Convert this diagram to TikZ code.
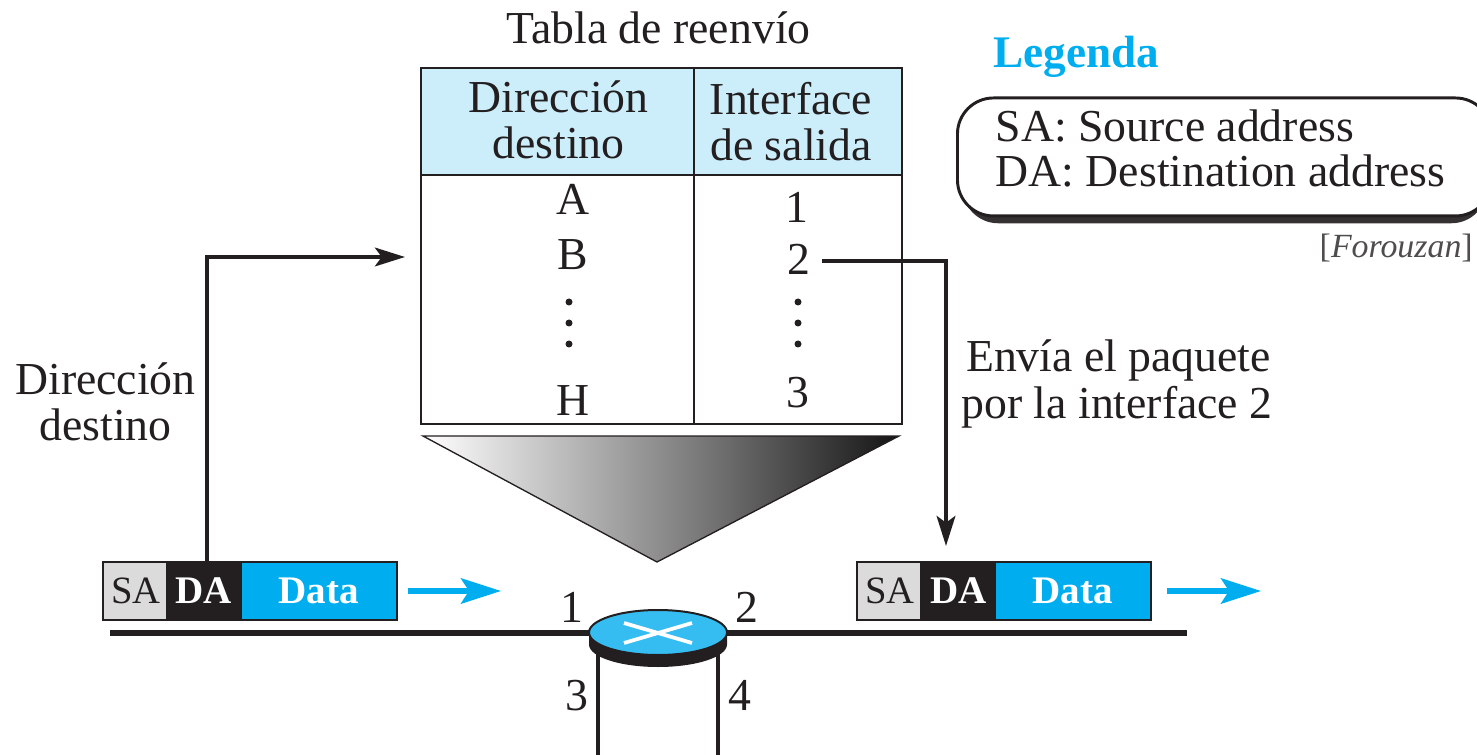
\documentclass[tikz,border=0pt]{standalone}
\usepackage{fontspec}
\setmainfont{Liberation Serif}
\usetikzlibrary{arrows.meta,shapes.geometric}
\definecolor{ink}{HTML}{231F20}
\definecolor{cyanb}{HTML}{00AEEF}
\definecolor{hdr}{HTML}{CCEEFA}
\definecolor{rtr}{HTML}{35BDF2}
\tikzset{
  txt/.style={anchor=base,inner sep=0pt,text=ink,font=\fontsize{34.3}{36}\selectfont},
  pkt/.style={anchor=base,inner sep=0pt,font=\fontsize{29}{30}\selectfont},
  cell/.style={draw=ink,line width=2.1pt,anchor=north west,inner sep=0pt,outer sep=0pt},
  field/.style={draw=ink,line width=2.1pt,anchor=north west,inner sep=0pt,outer sep=0pt,minimum height=58*0.75pt},
  dotm/.style={circle,fill=ink,inner sep=0pt,minimum size=7*0.75pt},
  wire/.style={ink,line width=3.8pt},
  link/.style={ink,line width=3pt,-{Stealth[length=22.5pt,width=14pt,inset=5pt]}},
  flow/.style={cyanb,line width=4pt,-{Stealth[length=30pt,width=19pt,inset=6pt]}},
}
\begin{document}
\begin{tikzpicture}[x=0.75pt,y=-0.75pt]
\clip (0,0) rectangle (1477,755);
% table
\node[txt] (title) at (658.5,44) {Tabla de reenvío};
\node[cell,fill=hdr,minimum width=273*0.75pt,minimum height=107*0.75pt] (hl) at (421,68) {};
\node[cell,fill=hdr,minimum width=208*0.75pt,minimum height=107*0.75pt] (hr) at (694,68) {};
\node[cell,minimum width=273*0.75pt,minimum height=249*0.75pt] (bl) at (421,175) {};
\node[cell,minimum width=208*0.75pt,minimum height=249*0.75pt] (br) at (694,175) {};
\node[txt] (h1a) at (558.5,113) {Dirección};
\node[txt] (h1b) at (558.5,159) {destino};
\node[txt] (h2a) at (791,115) {Interface};
\node[txt] (h2b) at (791,161) {de salida};
\node[txt] (ra) at (573,215) {A};
\node[txt] (rb) at (572.5,270) {B};
\node[txt] (rh) at (573,415) {H};
\node[txt] (r1) at (797,223) {1};
\node[txt] (r2) at (798.5,275) {2};
\node[txt] (r3) at (798,407) {3};
\node[dotm] (d1) at (569,302) {};
\node[dotm] (d2) at (569,323) {};
\node[dotm] (d3) at (569,344) {};
\node[dotm] (d4) at (798,302) {};
\node[dotm] (d5) at (798,323) {};
\node[dotm] (d6) at (798,344) {};
% funnel
\path[left color=white,right color=black!92,middle color=black!45] (423,436) -- (899,436) -- (657,562) -- cycle;
\draw[ink,line width=1pt] (423,436) -- (899,436) -- (657,562) -- cycle;
% legend
\node[txt,anchor=base west,text=cyanb,font=\fontsize{33.9}{36}\selectfont\bfseries] (lt) at (993,68) {Legenda};
\node[rectangle,rounded corners=27pt,fill=ink!92,anchor=north west,minimum width=525*0.75pt,minimum height=118*0.75pt] (ls) at (962,105) {};
\node[rectangle,rounded corners=27pt,draw=ink,fill=white,line width=2.2pt,anchor=north west,minimum width=534*0.75pt,minimum height=118*0.75pt] (lb) at (956,96.5) {};
\node[txt,anchor=base west] (l1) at (995.5,142) {SA: Source address};
\node[txt,anchor=base west] (l2) at (995.5,187) {DA: Destination address};
\node[txt,anchor=base east,text=ink!80,font=\fontsize{25.4}{26}\selectfont] (cr) at (1473,258) {[\textit{Forouzan}]};
% network line
\coordinate (wl) at (110,633);
\coordinate (wr) at (1187,633);
\coordinate (v1) at (598,755);
\coordinate (v2) at (718,755);
\draw[wire] (wl) -- (wr);
\draw[ink,line width=3pt] (598,650) -- (v1);
\draw[ink,line width=3pt] (718,650) -- (v2);
% router
\fill[ink] (589,633) -- (589,644.5) arc[start angle=180,end angle=0,x radius=69,y radius=22.5] -- (727,633) -- cycle;
\node[ellipse,draw=ink,fill=rtr,line width=1.5pt,inner sep=0pt,minimum width=138*0.75pt,minimum height=45*0.75pt] (router) at (658,632.5) {};
\draw[white,line width=2.8pt] (624,623) -- (692,643);
\draw[white,line width=2.8pt] (624,643) -- (692,623);
\node[txt] (p1) at (572,622) {1};
\node[txt] (p2) at (746.5,622) {2};
\node[txt] (p3) at (577,710) {3};
\node[txt] (p4) at (740,710) {4};
% packet left
\node[field,fill=black!14,minimum width=64*0.75pt] (sa1) at (103,562) {};
\node[field,fill=ink,minimum width=74*0.75pt] (da1) at (167,562) {};
\node[field,fill=cyanb,minimum width=156*0.75pt] (dt1) at (241,562) {};
\node[pkt,text=ink] at (136,603) {SA};
\node[pkt,text=white,font=\fontsize{29.3}{30}\selectfont\bfseries] at (204,603) {DA};
\node[pkt,text=white,font=\fontsize{29.3}{30}\selectfont\bfseries] at (318.5,603) {Data};
% packet right
\node[field,fill=black!14,minimum width=64*0.75pt] (sa2) at (857,562) {};
\node[field,fill=ink,minimum width=74*0.75pt] (da2) at (921,562) {};
\node[field,fill=cyanb,minimum width=156*0.75pt] (dt2) at (995,562) {};
\node[pkt,text=ink] at (890,603) {SA};
\node[pkt,text=white,font=\fontsize{29.3}{30}\selectfont\bfseries] at (958.5,603) {DA};
\node[pkt,text=white,font=\fontsize{29.3}{30}\selectfont\bfseries] at (1072.5,603) {Data};
% arrows
\coordinate (out1) at (408,591);
\coordinate (end1) at (501,591);
\coordinate (out2) at (1167,591);
\coordinate (end2) at (1261,591);
\draw[flow] (out1) -- (end1);
\draw[flow] (out2) -- (end2);
\coordinate (daup) at (207,561);
\coordinate (tabin) at (405,257);
\draw[link] (daup) |- (tabin);
\coordinate (from2) at (822,261);
\coordinate (toda) at (946,546);
\draw[link] (from2) -| (toda);
% labels
\node[txt] (e1) at (1118.5,372) {Envía el paquete};
\node[txt] (e2) at (1117,418) {por la interface 2};
\node[txt] (dd1) at (105.5,394) {Dirección};
\node[txt] (dd2) at (105.5,440) {destino};
\end{tikzpicture}
\end{document}
